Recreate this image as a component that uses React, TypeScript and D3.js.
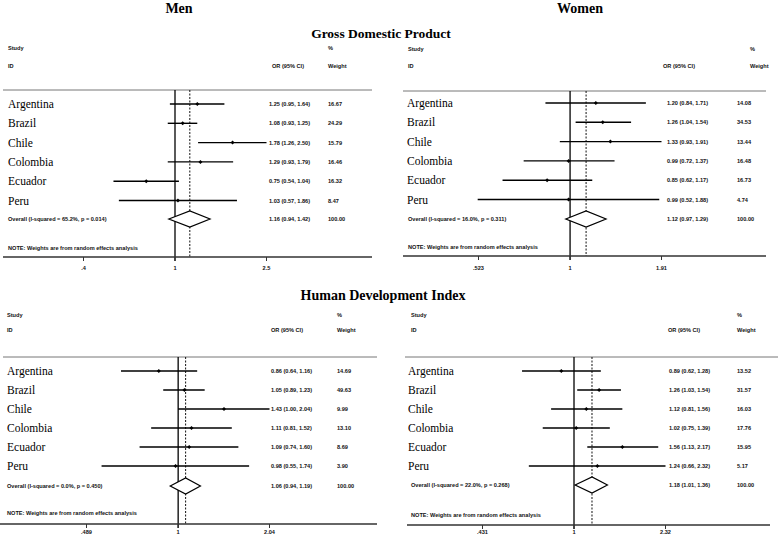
import React from "react";
import * as d3 from "d3";

const countries = ["Argentina", "Brazil", "Chile", "Colombia", "Ecuador", "Peru"];

// Men - GDP
const menGdpOR = [1.25, 1.08, 1.78, 1.29, 0.75, 1.03];
const menGdpLo = [0.95, 0.93, 1.26, 0.93, 0.54, 0.57];
const menGdpHi = [1.64, 1.25, 2.5, 1.79, 1.04, 1.86];
const menGdpW = ["16.67", "24.29", "15.79", "16.46", "16.32", "8.47"];
const menGdpOverall = [1.16, 0.94, 1.42];
const menGdpHet = "Overall  (I-squared = 65.2%, p = 0.014)";
const menGdpTicks = [0.4, 1, 2.5];
const menGdpTickLabels = [".4", "1", "2.5"];

// Women - GDP
const womenGdpOR = [1.2, 1.26, 1.33, 0.99, 0.85, 0.99];
const womenGdpLo = [0.84, 1.04, 0.93, 0.72, 0.62, 0.52];
const womenGdpHi = [1.71, 1.54, 1.91, 1.37, 1.17, 1.88];
const womenGdpW = ["14.08", "34.53", "13.44", "16.48", "16.73", "4.74"];
const womenGdpOverall = [1.12, 0.97, 1.29];
const womenGdpHet = "Overall  (I-squared = 16.0%, p = 0.311)";
const womenGdpTicks = [0.523, 1, 1.91];
const womenGdpTickLabels = [".523", "1", "1.91"];

// Men - HDI
const menHdiOR = [0.86, 1.05, 1.43, 1.11, 1.09, 0.98];
const menHdiLo = [0.64, 0.89, 1.0, 0.81, 0.74, 0.55];
const menHdiHi = [1.16, 1.23, 2.04, 1.52, 1.6, 1.74];
const menHdiW = ["14.69", "49.63", "9.99", "13.10", "8.69", "3.90"];
const menHdiOverall = [1.06, 0.94, 1.19];
const menHdiHet = "Overall  (I-squared = 0.0%, p = 0.450)";
const menHdiTicks = [0.489, 1, 2.04];
const menHdiTickLabels = [".489", "1", "2.04"];

// Women - HDI
const womenHdiOR = [0.89, 1.26, 1.12, 1.02, 1.56, 1.24];
const womenHdiLo = [0.62, 1.03, 0.81, 0.75, 1.13, 0.66];
const womenHdiHi = [1.28, 1.54, 1.56, 1.39, 2.17, 2.32];
const womenHdiW = ["13.52", "31.57", "16.03", "17.76", "15.95", "5.17"];
const womenHdiOverall = [1.18, 1.01, 1.36];
const womenHdiHet = "Overall  (I-squared = 22.0%, p = 0.268)";
const womenHdiTicks = [0.431, 1, 2.32];
const womenHdiTickLabels = [".431", "1", "2.32"];

const fmt = (v: number) => d3.format(".2f")(v);

type Layout = {
  labelX: number; studyX: number; studyY: number; idY: number; ruleY: number; ruleX0: number; ruleX1: number;
  rowY0: number; rowStep: number; overallY: number; noteY: number; axisY: number; tickLabelY: number;
  axisX0: number; axisX1: number; nullX: number; orHeadX: number; orX: number; pctX: number; wX: number;
};

type PanelProps = {
  layout: Layout; or: number[]; lo: number[]; hi: number[]; w: string[]; overall: number[]; het: string;
  ticks: number[]; tickLabels: string[];
};

const SANS = "'Liberation Sans', Arial, sans-serif";
const SERIF = "'Liberation Serif', 'Times New Roman', serif";

function Panel({ layout: L, or, lo, hi, w, overall, het, ticks, tickLabels }: PanelProps) {
  const half = 91.5;
  const x = d3.scaleLog().domain([ticks[0], ticks[2]]).range([L.nullX - half, L.nullX + half]);
  const y = (i: number) => L.rowY0 + i * L.rowStep;
  const [ov, ovLo, ovHi] = overall;
  const dh = 8;
  const diamond = `M${x(ovLo)},${L.overallY} L${x(ov)},${L.overallY - dh} L${x(ovHi)},${L.overallY} L${x(ov)},${L.overallY + dh} Z`;
  const small = { fontFamily: SANS, fontSize: 5.6, fill: "#111", fontWeight: 600 } as const;
  return (
    <g>
      <text x={L.studyX} y={L.studyY} dominantBaseline="central" {...small}>Study</text>
      <text x={L.studyX} y={L.idY} dominantBaseline="central" {...small}>ID</text>
      <text x={L.pctX} y={L.studyY} dominantBaseline="central" {...small}>%</text>
      <text x={L.orHeadX} y={L.idY} dominantBaseline="central" {...small}>OR (95% CI)</text>
      <text x={L.pctX} y={L.idY} dominantBaseline="central" {...small}>Weight</text>
      <line x1={L.ruleX0} x2={L.ruleX1} y1={L.ruleY} y2={L.ruleY} stroke="#777" strokeWidth={1} />
      <line x1={x(1)} x2={x(1)} y1={L.ruleY} y2={L.axisY + 4} stroke="#000" strokeWidth={1.3} />
      <line x1={x(ov)} x2={x(ov)} y1={L.ruleY} y2={L.axisY} stroke="#111" strokeWidth={1} strokeDasharray="2,1.5" />
      {countries.map((c, i) => (
        <g key={c}>
          <text x={L.labelX} y={y(i)} dominantBaseline="central" fontFamily={SERIF} fontSize={11.5} fill="#000">{c}</text>
          <line x1={x(lo[i])} x2={x(hi[i])} y1={y(i)} y2={y(i)} stroke="#000" strokeWidth={1.4} />
          <path d={`M${x(or[i]) - 2},${y(i)} L${x(or[i])},${y(i) - 2} L${x(or[i]) + 2},${y(i)} L${x(or[i])},${y(i) + 2} Z`} fill="#000" />
          <text x={L.orX} y={y(i)} dominantBaseline="central" {...small}>{`${fmt(or[i])} (${fmt(lo[i])}, ${fmt(hi[i])})`}</text>
          <text x={L.wX} y={y(i)} dominantBaseline="central" {...small}>{w[i]}</text>
        </g>
      ))}
      <text x={L.studyX} y={L.overallY} dominantBaseline="central" {...small}>{het}</text>
      <path d={diamond} fill="#fff" stroke="#000" strokeWidth={1.2} />
      <text x={L.orX} y={L.overallY} dominantBaseline="central" {...small}>{`${fmt(ov)} (${fmt(ovLo)}, ${fmt(ovHi)})`}</text>
      <text x={L.wX} y={L.overallY} dominantBaseline="central" {...small}>100.00</text>
      <text x={L.studyX} y={L.noteY} dominantBaseline="central" {...small}>NOTE: Weights are from random effects analysis</text>
      <line x1={L.axisX0} x2={L.axisX1} y1={L.axisY} y2={L.axisY} stroke="#333" strokeWidth={1.5} />
      {ticks.map((t, i) => (
        <g key={i}>
          <line x1={x(t)} x2={x(t)} y1={L.axisY} y2={L.axisY + 4} stroke="#333" strokeWidth={1} />
          <text x={x(t)} y={L.tickLabelY} textAnchor="middle" dominantBaseline="central" {...small}>{tickLabels[i]}</text>
        </g>
      ))}
    </g>
  );
}

const layoutMenGdp: Layout = {
  labelX: 8, studyX: 8, studyY: 48, idY: 66, ruleY: 90, ruleX0: 3, ruleX1: 372,
  rowY0: 104, rowStep: 19.3, overallY: 219, noteY: 248, axisY: 257, tickLabelY: 268,
  axisX0: 3, axisX1: 372, nullX: 175, orHeadX: 272, orX: 269, pctX: 328, wX: 328,
};
const layoutWomenGdp: Layout = {
  labelX: 407, studyX: 408, studyY: 49, idY: 66, ruleY: 91, ruleX0: 403, ruleX1: 766,
  rowY0: 103, rowStep: 19.3, overallY: 219, noteY: 247, axisY: 256, tickLabelY: 268,
  axisX0: 403, axisX1: 766, nullX: 570, orHeadX: 663, orX: 667, pctX: 750, wX: 737,
};
const layoutMenHdi: Layout = {
  labelX: 7, studyX: 7, studyY: 315, idY: 330, ruleY: 357, ruleX0: 3, ruleX1: 377,
  rowY0: 371, rowStep: 19, overallY: 486, noteY: 513, axisY: 524, tickLabelY: 532,
  axisX0: 0, axisX1: 377, nullX: 178, orHeadX: 271, orX: 271, pctX: 337, wX: 337,
};
const layoutWomenHdi: Layout = {
  labelX: 408, studyX: 411, studyY: 315, idY: 330, ruleY: 357, ruleX0: 405, ruleX1: 778,
  rowY0: 371, rowStep: 19, overallY: 485, noteY: 515, axisY: 525, tickLabelY: 532,
  axisX0: 407, axisX1: 770, nullX: 574, orHeadX: 668, orX: 669, pctX: 737, wX: 737,
};

export default function App() {
  return (
    <svg width={778} height={538} style={{ position: "absolute", left: 0, top: 0, background: "#fff" }}>
      <rect width={778} height={538} fill="#fff" />
      <text x={179} y={8} textAnchor="middle" dominantBaseline="central" fontFamily={SERIF} fontWeight="bold" fontSize={14}>Men</text>
      <text x={580} y={8} textAnchor="middle" dominantBaseline="central" fontFamily={SERIF} fontWeight="bold" fontSize={14}>Women</text>
      <text x={381} y={33} textAnchor="middle" dominantBaseline="central" fontFamily={SERIF} fontWeight="bold" fontSize={13.5}>Gross Domestic Product</text>
      <text x={383} y={295} textAnchor="middle" dominantBaseline="central" fontFamily={SERIF} fontWeight="bold" fontSize={14}>Human Development Index</text>
      <Panel layout={layoutMenGdp} or={menGdpOR} lo={menGdpLo} hi={menGdpHi} w={menGdpW} overall={menGdpOverall} het={menGdpHet} ticks={menGdpTicks} tickLabels={menGdpTickLabels} />
      <Panel layout={layoutWomenGdp} or={womenGdpOR} lo={womenGdpLo} hi={womenGdpHi} w={womenGdpW} overall={womenGdpOverall} het={womenGdpHet} ticks={womenGdpTicks} tickLabels={womenGdpTickLabels} />
      <Panel layout={layoutMenHdi} or={menHdiOR} lo={menHdiLo} hi={menHdiHi} w={menHdiW} overall={menHdiOverall} het={menHdiHet} ticks={menHdiTicks} tickLabels={menHdiTickLabels} />
      <Panel layout={layoutWomenHdi} or={womenHdiOR} lo={womenHdiLo} hi={womenHdiHi} w={womenHdiW} overall={womenHdiOverall} het={womenHdiHet} ticks={womenHdiTicks} tickLabels={womenHdiTickLabels} />
    </svg>
  );
}
